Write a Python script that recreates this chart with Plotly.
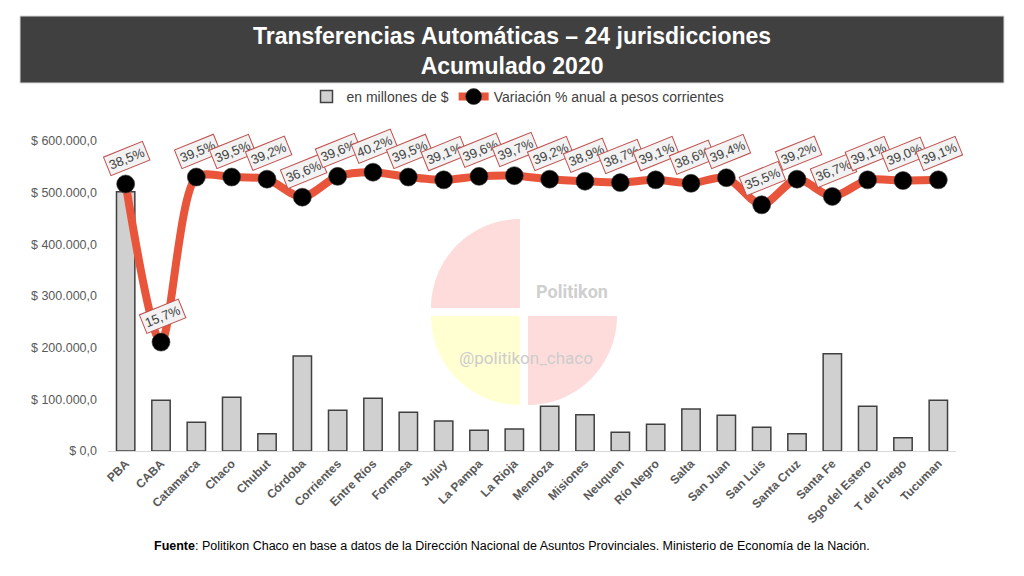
import numpy as np
import plotly.graph_objects as go

categories = ['PBA', 'CABA', 'Catamarca', 'Chaco', 'Chubut', 'Córdoba', 'Corrientes',
              'Entre Ríos', 'Formosa', 'Jujuy', 'La Pampa', 'La Rioja', 'Mendoza',
              'Misiones', 'Neuquen', 'Río Negro', 'Salta', 'San Juan', 'San Luis',
              'Santa Cruz', 'Santa Fe', 'Sgo del Estero', 'T del Fuego', 'Tucuman']

millones = [502000, 98000, 55500, 104000, 33500, 183700, 78700, 102000, 74800,
            58000, 40000, 42500, 86500, 70200, 36200, 51600, 81200, 69000, 45800,
            33500, 188200, 86500, 25700, 98000]

variacion = [38.5, 15.7, 39.5, 39.5, 39.2, 36.6, 39.6, 40.2, 39.5, 39.1, 39.6, 39.7,
             39.2, 38.9, 38.7, 39.1, 38.6, 39.4, 35.5, 39.2, 36.7, 39.1, 39.0, 39.1]

y_tickvals = [0, 100000, 200000, 300000, 400000, 500000, 600000]
y_ticktext = ['$ 0,0', '$ 100.000,0', '$ 200.000,0', '$ 300.000,0',
              '$ 400.000,0', '$ 500.000,0', '$ 600.000,0']

OFF = 8  # page body margin
W, H = 1024 - OFF, 576 - OFF
# plot area in screen pixels
SL, SR, ST, SB = 108, 956, 141, 451
L, R, T, B = SL - OFF, SR - OFF, ST - OFF, SB - OFF


def px2paper(px, py):
    # screen pixel -> paper fraction
    return (px - SL) / (SR - SL), (SB - py) / (SB - ST)


SANS = "Liberation Sans, Arial, sans-serif"

fig = go.Figure()

fig.add_trace(go.Bar(
    x=categories, y=millones, name='en millones de $',
    marker=dict(color='#D0D0D0', line=dict(color='#404040', width=1.5)),
    width=0.52, yaxis='y'))

fig.add_trace(go.Scatter(
    x=categories, y=variacion, name='Variación % anual a pesos corrientes',
    mode='lines+markers', yaxis='y2',
    line=dict(color='#E8553B', width=8, shape='spline', smoothing=0.8),
    marker=dict(color='#000000', size=18, line=dict(width=1, color='rgba(60,60,60,0.6)'))))

# watermark (decorative)
shapes = []
cx, cy, rad, gap = 524, 312, 89, 4


def quarter(ox, oy, sx, sy, color):
    t = np.linspace(0, np.pi / 2, 40)
    pts = [(ox, oy)]
    for a in t:
        pts.append((ox + sx * rad * np.cos(a), oy + sy * rad * np.sin(a)))
    path = ''
    for i, (px, py) in enumerate(pts):
        u, v = px2paper(px, py)
        path += ('M' if i == 0 else 'L') + f'{u:.5f},{v:.5f} '
    path += 'Z'
    return dict(type='path', xref='paper', yref='paper', path=path,
                fillcolor=color, line=dict(width=0), layer='below')


shapes.append(quarter(cx - gap, cy - gap, -1, -1, '#FFDCDC'))
shapes.append(quarter(cx - gap, cy + gap, -1, 1, '#FFFFD2'))
shapes.append(quarter(cx + gap, cy + gap, 1, 1, '#FFDCDC'))

# title box
x0, y0 = px2paper(20, 16)
x1, y1 = px2paper(1004, 83)
shapes.append(dict(type='rect', xref='paper', yref='paper', x0=x0, x1=x1, y0=y0, y1=y1,
                   fillcolor='#404040', line=dict(color='#D9D9D9', width=1), layer='above'))

annotations = []
tx, ty = px2paper(512, 51)
annotations.append(dict(xref='paper', yref='paper', x=tx, y=ty, showarrow=False,
                        text='<b>Transferencias Automáticas – 24 jurisdicciones<br>Acumulado 2020</b>',
                        font=dict(family=SANS, size=23, color='#FFFFFF'),
                        xanchor='center', yanchor='middle', align='center'))

# watermark text
px_, py_ = px2paper(572, 291)
annotations.append(dict(xref='paper', yref='paper', x=px_, y=py_, showarrow=False,
                        text='<b>Politikon</b>', font=dict(family='Roboto, ' + SANS, size=18, color='#CFCFCF'),
                        xanchor='center', yanchor='middle'))
px_, py_ = px2paper(526, 358)
annotations.append(dict(xref='paper', yref='paper', x=px_, y=py_, showarrow=False,
                        text='@politikon_chaco', font=dict(family='Roboto, ' + SANS, size=17, color='#CCCCCC'),
                        xanchor='center', yanchor='middle'))

# data labels
for c, v in zip(categories, variacion):
    annotations.append(dict(x=c, y=v, xref='x', yref='y2', showarrow=False,
                            text=f'{v:.1f}%'.replace('.', ','), textangle=-22,
                            yshift=26, xshift=1,
                            font=dict(family=SANS, size=13, color='#404040'),
                            bgcolor='#F2F2F2', bordercolor='#C0504D', borderwidth=1, borderpad=2))

# footer
fx, fy = px2paper(512, 546)
annotations.append(dict(xref='paper', yref='paper', x=fx, y=fy, showarrow=False,
                        text='<b>Fuente</b>: Politikon Chaco en base a datos de la Dirección Nacional de Asuntos Provinciales. Ministerio de Economía de la Nación.',
                        font=dict(family=SANS, size=12.5, color='#000000'),
                        xanchor='center', yanchor='middle'))

fig.update_layout(
    width=W, height=H,
    margin=dict(l=L, r=W - R, t=T, b=H - B, pad=0, autoexpand=False),
    paper_bgcolor='#FFFFFF', plot_bgcolor='rgba(0,0,0,0)',
    showlegend=True,
    legend=dict(orientation='h', x=(518 - OFF) / W, xref='container',
                y=1 - (97 - OFF) / H, yref='container',
                xanchor='center', yanchor='middle',
                font=dict(family=SANS, size=14, color='#404040'),
                bgcolor='rgba(0,0,0,0)', itemwidth=30, traceorder='normal'),
    xaxis=dict(type='category', range=[-0.5, len(categories) - 0.5], tickangle=-45,
               showgrid=False, showline=True,
               linecolor='#D9D9D9', linewidth=1, ticks='', automargin=False,
               tickfont=dict(family=SANS, size=12, color='#595959', weight='bold')),
    yaxis=dict(range=[0, 600000], tickvals=y_tickvals, ticktext=y_ticktext,
               showgrid=False, zeroline=False, ticks='', ticklabelstandoff=10, automargin=False,
               tickfont=dict(family=SANS, size=12.5, color='#595959')),
    yaxis2=dict(range=[0, 44.7], overlaying='y', showgrid=False, zeroline=False,
                showticklabels=False, ticks='', side='right', automargin=False),
    bargap=0.48,
    shapes=shapes, annotations=annotations,
)

fig.write_html('out.html')
